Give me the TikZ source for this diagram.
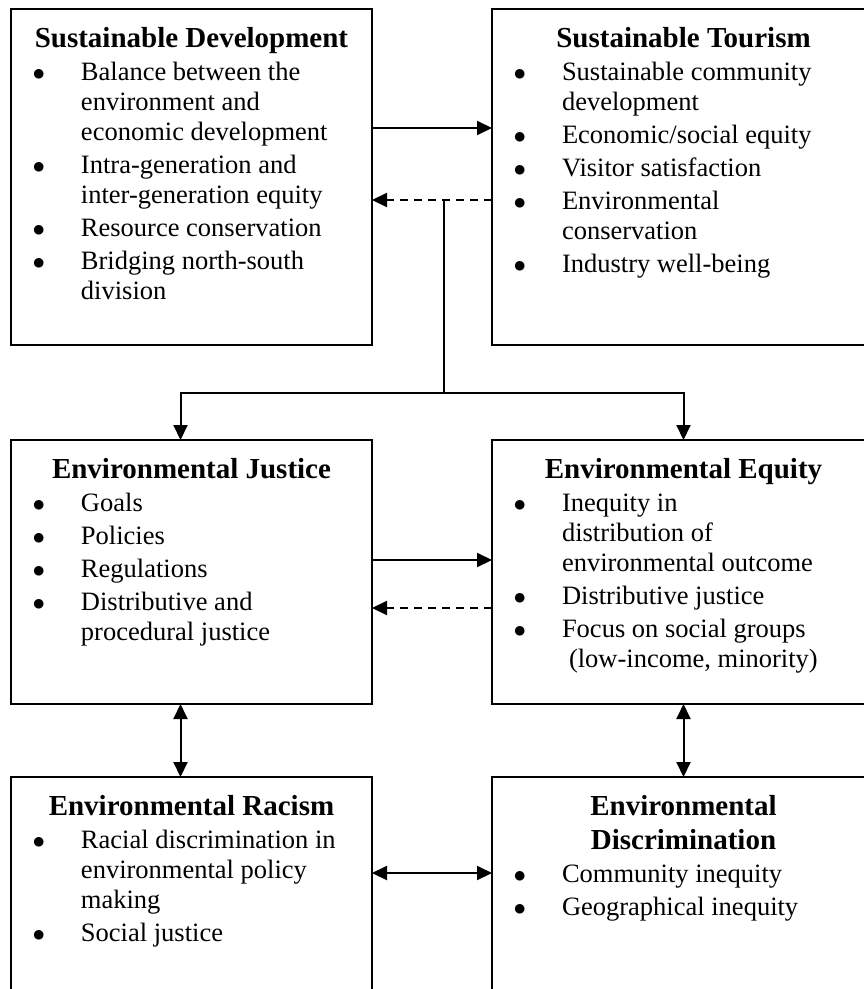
\documentclass[tikz,border=0pt]{standalone}
\usepackage{fontspec}
\setmainfont{Liberation Serif}
\usepackage{tikz}
\usetikzlibrary{arrows.meta,positioning}

\newcommand{\heading}[1]{{\centering\fontsize{29pt}{34pt}\bfseries\rule{0pt}{38pt}#1\par}\fontsize{26.5pt}{30pt}\selectfont\raggedright\parskip=3pt}
\newcommand{\itm}{\par\hangindent=70pt\hangafter=1\noindent\makebox[70pt][l]{\hspace{21.5pt}$\bullet$}}

\begin{document}
\begin{tikzpicture}[x=1pt,y=1pt,
			box/.style={draw,line width=2.4pt,inner sep=0pt,outer sep=0pt,anchor=north west},
			link/.style={line width=2pt,-{Triangle[length=15pt,width=14pt]}},
			twoway/.style={link,{Triangle[length=15pt,width=14pt]}-{Triangle[length=15pt,width=14pt]}},
			back/.style={link,dash pattern=on 8pt off 6pt}]

			\useasboundingbox (0,0) rectangle (864,-989);
			\clip (0,0) rectangle (864,-989);

			\node [box] (sd) at (11,-9) {\parbox[c][336pt][t]{361pt}{\heading{Sustainable Development}
				\itm Balance between the\newline environment and\newline economic development
				\itm Intra-generation and\newline inter-generation equity
				\itm Resource conservation
				\itm Bridging north-south\newline division}};
			\node [box,right=120pt of sd] (st) {\parbox[c][336pt][t]{383pt}{\heading{Sustainable Tourism}
				\itm Sustainable community\newline development
				\itm Economic/social equity
				\itm Visitor satisfaction
				\itm Environmental\newline conservation
				\itm Industry well-being}};
			\node [box,below=95pt of sd] (ej) {\parbox[c][264pt][t]{361pt}{\heading{Environmental Justice}
				\itm Goals
				\itm Policies
				\itm Regulations
				\itm Distributive and\newline procedural justice}};
			\node [box,right=120pt of ej] (ee) {\parbox[c][264pt][t]{383pt}{\heading{Environmental Equity}
				\itm Inequity in\newline distribution of\newline environmental outcome
				\itm Distributive justice
				\itm Focus on social groups\newline\hspace*{7pt}(low-income, minority)}};
			\node [box,below=73pt of ej] (er) {\parbox[c][223pt][t]{361pt}{\heading{Environmental Racism}
				\itm Racial discrimination in\newline environmental policy\newline making
				\itm Social justice}};
			\node [box,right=120pt of er] (ed) {\parbox[c][223pt][t]{383pt}{\heading{Environmental\\Discrimination}
				\itm Community inequity
				\itm Geographical inequity}};

			\coordinate (dash) at ([yshift=-23pt]st.west);
			\coordinate (fork) at (444,-393);
			\draw [link] ([yshift=49pt]sd.east) -- ([yshift=49pt]st.west);
			\draw [back] (dash) -- (dash -| sd.east);
			\draw [line width=2pt] (fork |- dash) -- (fork);
			\draw [link] (fork) -| ([xshift=-11pt]ej.north);
			\draw [link] (fork) -| (ee.north);
			\draw [link] ([yshift=12pt]ej.east) -- ([yshift=12pt]ee.west);
			\draw [back] ([yshift=-36pt]ee.west) -- ([yshift=-36pt]ej.east);
			\draw [twoway] ([xshift=-11pt]ej.south) -- ([xshift=-11pt]er.north);
			\draw [twoway] (ee.south) -- (ed.north);
			\draw [twoway] ([yshift=15.5pt]er.east) -- ([yshift=15.5pt]ed.west);
	\end{tikzpicture}
\end{document}
